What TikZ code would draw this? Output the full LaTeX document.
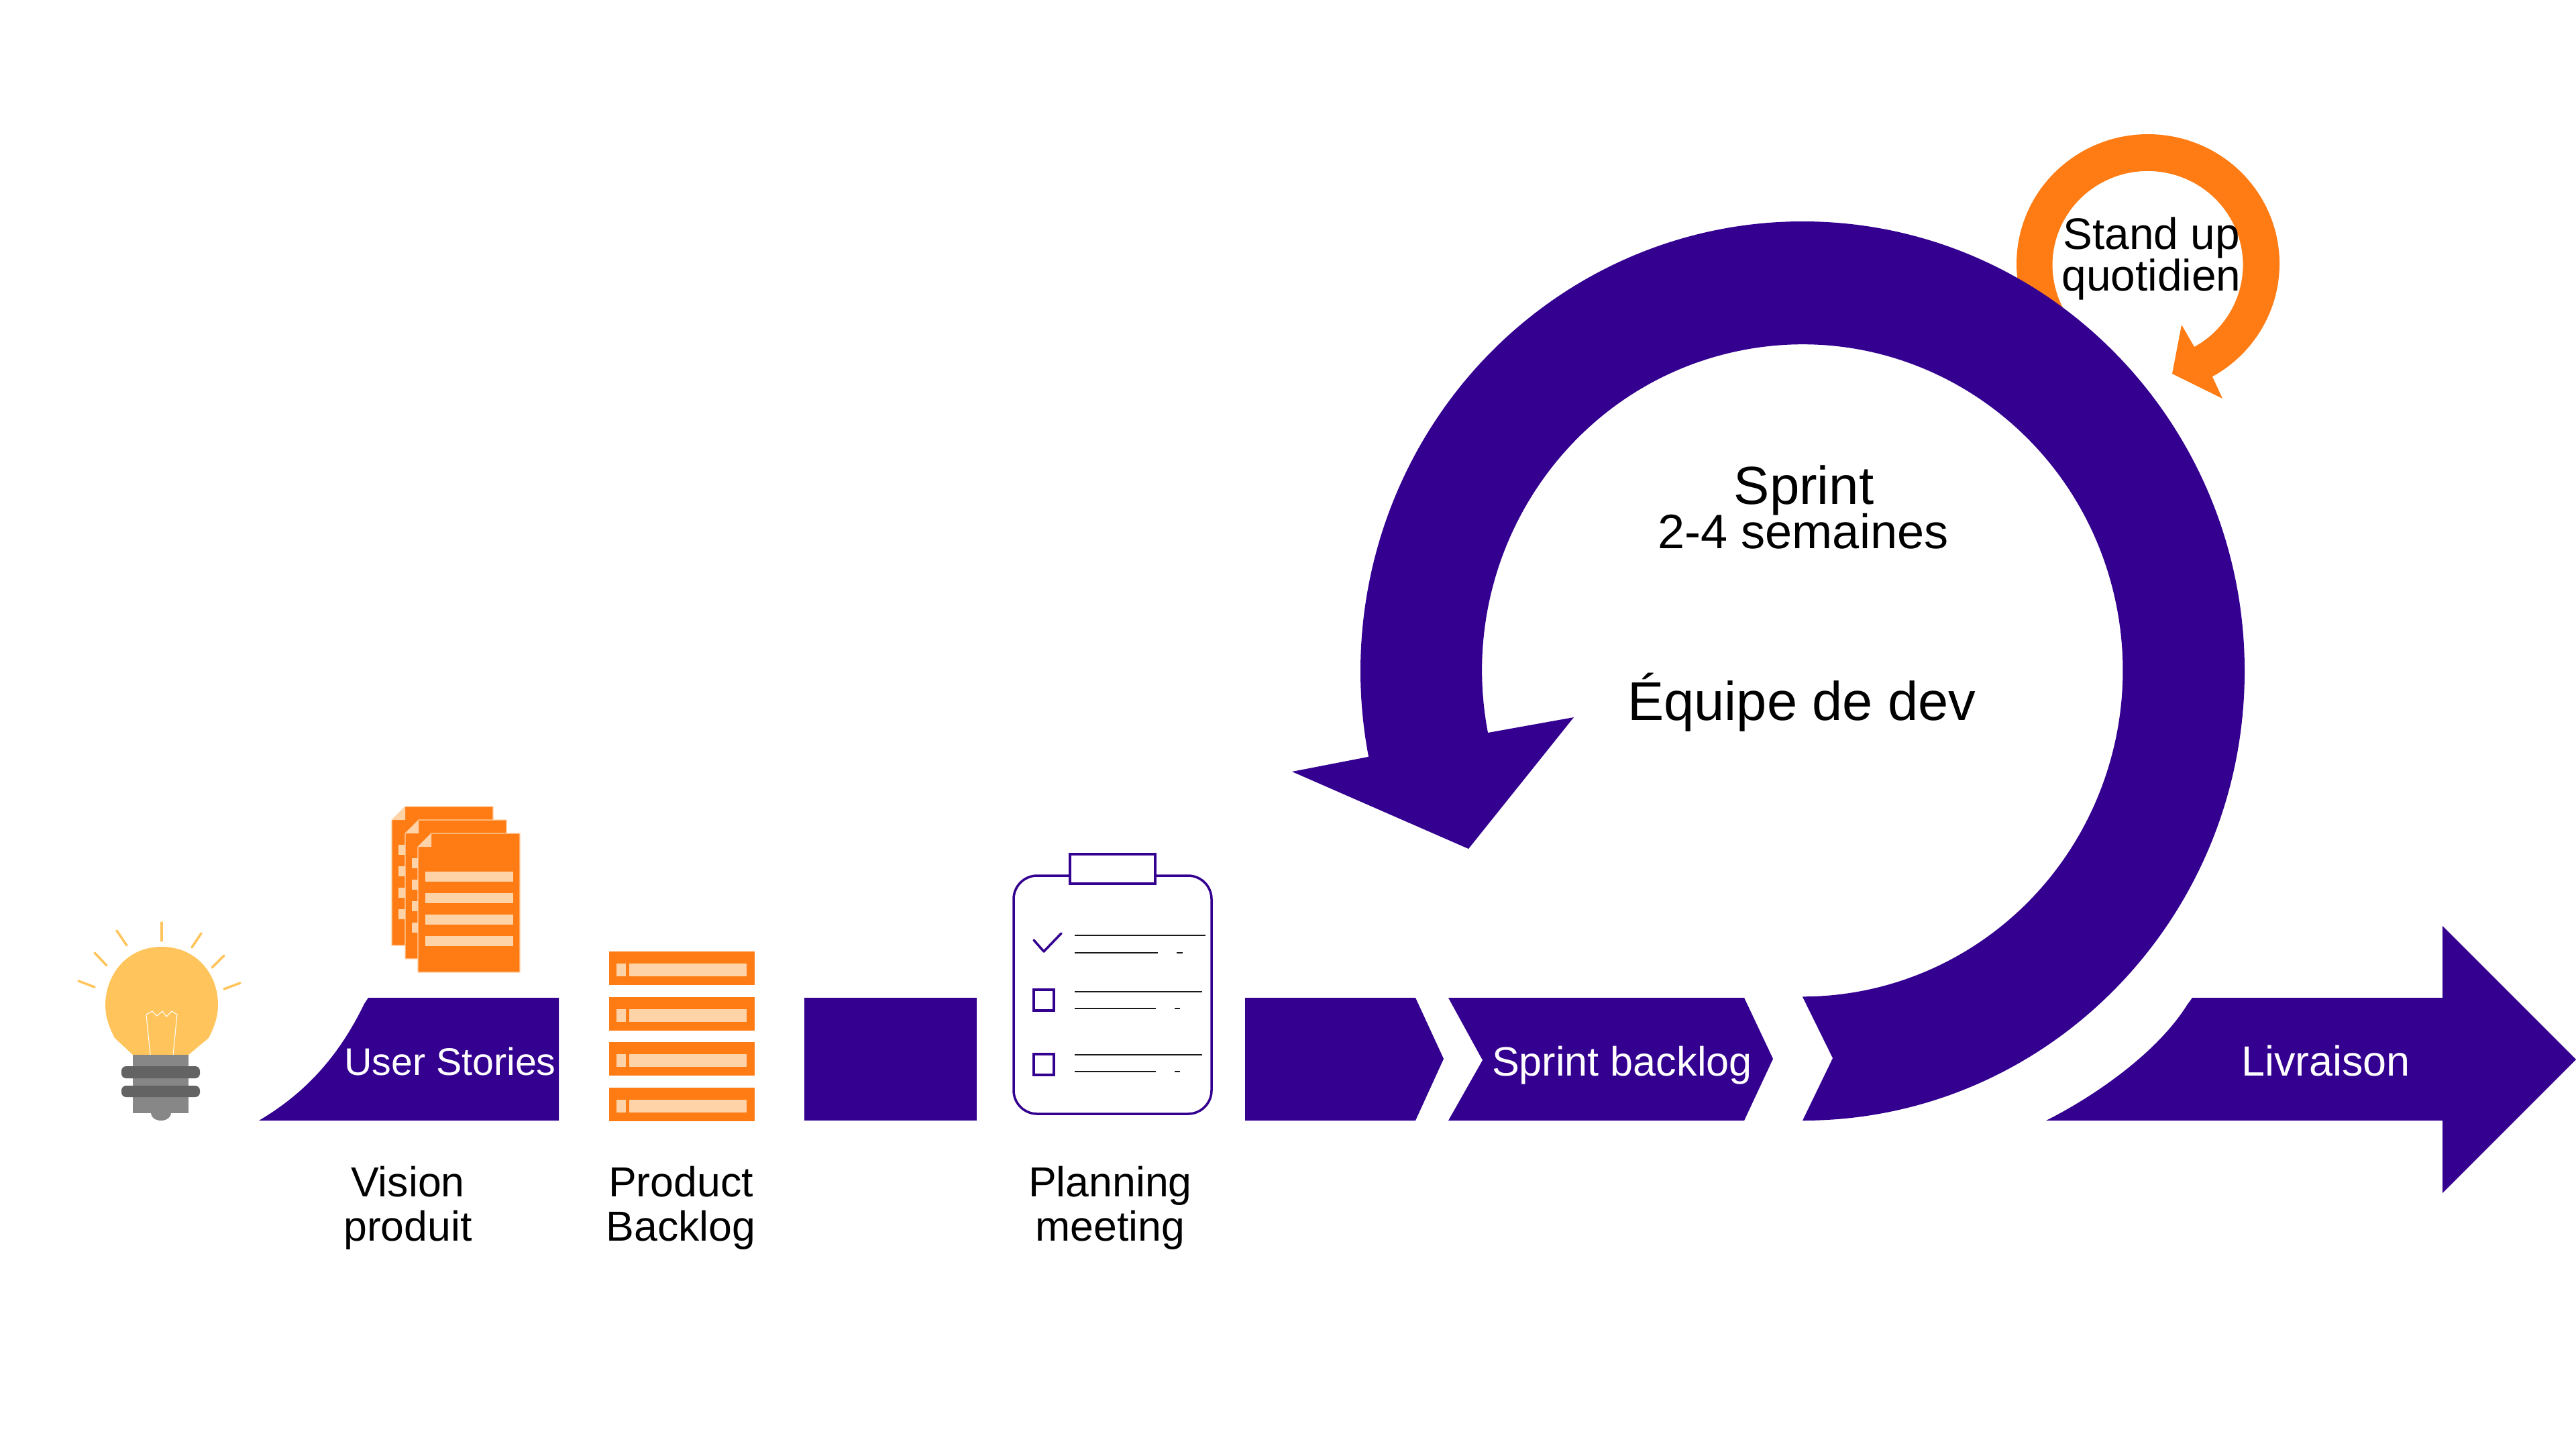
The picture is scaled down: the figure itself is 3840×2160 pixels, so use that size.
\documentclass[tikz,border=0pt]{standalone}
\usepackage{fontspec}
\setmainfont{Liberation Sans}
\definecolor{scrumpurple}{HTML}{330090}
\definecolor{scrumorange}{HTML}{FF7C14}
\definecolor{paleorange}{HTML}{FFD3A8}
\definecolor{bulbyellow}{HTML}{FFC55C}
\definecolor{basegrey}{HTML}{878787}
\definecolor{bandgrey}{HTML}{636363}
\tikzstyle{every node}=[inner sep=0pt, anchor=base, align=center]
\tikzstyle{caption}=[font=\fontsize{17.8}{18.5}\selectfont]
\tikzstyle{bartext}=[white, font=\fontsize{17.4}{20}\selectfont]
\tikzstyle{ray}=[bulbyellow, line width=1pt, line cap=round]
\tikzstyle{sheet}=[fill=scrumorange, draw=paleorange, line width=0.3pt]
\tikzstyle{listline}=[black!90, line width=0.55pt]
\tikzstyle{tickbox}=[scrumpurple, line width=1pt]

\begin{document}
\begin{tikzpicture}[x=0.01cm, y=-0.01cm]
\useasboundingbox (0,0) rectangle (3840,2160);
% Stand up loop
    \fill[scrumorange] (3202,393) ++(140:196 and 193) arc[start angle=140, end angle=420.7, x radius=196, y radius=193]
        -- (3313,594) -- (3238,557) -- (3252,484) -- (3271,517)
        arc[start angle=420.7, end angle=140, x radius=142, y radius=140] -- cycle;
% Sprint loop
    \fill[scrumpurple] (2687,1670) arc[start angle=90, end angle=-191, x radius=659, y radius=670]
        -- (1926,1150) -- (2189,1265) -- (2346,1069) -- (2218,1092)
        arc[start angle=-191, end angle=90, x radius=477.6, y radius=486]
        -- (2732,1577) -- cycle;
% Flow along the bottom
    \fill[scrumpurple] (386,1670) .. controls (445,1635) and (500,1585) .. (543,1496)
        -- (549,1487) -- (833,1487) -- (833,1670) -- cycle;
    \fill[scrumpurple] (1199,1487) rectangle (1456,1670);
    \fill[scrumpurple] (1856,1487) -- (2110,1487) -- (2152,1578) -- (2110,1670) -- (1856,1670) -- cycle;
    \fill[scrumpurple] (2159,1487) -- (2600,1487) -- (2643,1578) -- (2600,1670) -- (2159,1670) -- (2210,1580) -- cycle;
    \fill[scrumpurple] (3050,1670) .. controls (3120,1635) and (3215,1570) .. (3260,1498)
        -- (3268,1487) -- (3641,1487) -- (3641,1380) -- (3840,1579)
        -- (3641,1778) -- (3641,1670) -- cycle;
% Bulb
    \draw[ray] (241,1375) -- (241,1402);
    \draw[ray] (174,1387) -- (189,1409);
    \draw[ray] (141,1420) -- (159,1439);
    \draw[ray] (117,1462) -- (141,1471);
    \draw[ray] (300,1391) -- (286,1412);
    \draw[ray] (334,1424) -- (316,1442);
    \draw[ray] (358,1465) -- (334,1474);
    \fill[bulbyellow] (198,1572) -- (171,1547) .. controls (160,1526) and (157,1511) .. (157,1497)
        .. controls (158,1451) and (190,1411) .. (241,1411)
        .. controls (292,1411) and (325,1451) .. (325,1497)
        .. controls (325,1511) and (322,1526) .. (311,1547) -- (281,1572) -- cycle;
    \draw[white, line width=0.3pt] (224,1572) -- (218,1512) -- (227,1507) -- (234,1514) -- (242,1507)
        -- (248,1515) -- (256,1507) -- (264,1512) -- (258,1572);
    \fill[basegrey] (240,1659) ellipse[x radius=15, y radius=11];
    \fill[basegrey] (198,1572) rectangle (281,1659);
    \fill[bandgrey, rounded corners=2pt] (181,1589) rectangle (298,1607);
    \fill[bandgrey, rounded corners=2pt] (181,1618) rectangle (298,1635);
% User story sheets
    \filldraw[sheet] (604,1202) -- (735,1202) -- (735,1409) -- (584,1409) -- (584,1222) -- cycle;
    \fill[paleorange] (584,1222) -- (604,1222) -- (604,1202) -- cycle;
    \fill[paleorange] (594,1259) rectangle (725,1274);
    \fill[paleorange] (594,1291) rectangle (725,1306);
    \fill[paleorange] (594,1323) rectangle (725,1338);
    \fill[paleorange] (594,1355) rectangle (725,1370);
    \filldraw[sheet] (624,1222) -- (755,1222) -- (755,1429) -- (604,1429) -- (604,1242) -- cycle;
    \fill[paleorange] (604,1242) -- (624,1242) -- (624,1222) -- cycle;
    \fill[paleorange] (614,1279) rectangle (745,1294);
    \fill[paleorange] (614,1311) rectangle (745,1326);
    \fill[paleorange] (614,1343) rectangle (745,1358);
    \fill[paleorange] (614,1375) rectangle (745,1390);
    \filldraw[sheet] (643,1242) -- (775,1242) -- (775,1449) -- (623,1449) -- (623,1262) -- cycle;
    \fill[paleorange] (623,1262) -- (643,1262) -- (643,1242) -- cycle;
    \fill[paleorange] (634,1299) rectangle (765,1314);
    \fill[paleorange] (634,1331) rectangle (765,1346);
    \fill[paleorange] (634,1363) rectangle (765,1378);
    \fill[paleorange] (634,1395) rectangle (765,1410);
% Backlog rows
    \fill[scrumorange] (908,1418) rectangle (1125,1468);
    \fill[paleorange] (919,1436) rectangle (933,1455);
    \fill[paleorange] (938,1436) rectangle (1113,1455);
    \fill[scrumorange] (908,1486) rectangle (1125,1536);
    \fill[paleorange] (919,1504) rectangle (933,1523);
    \fill[paleorange] (938,1504) rectangle (1113,1523);
    \fill[scrumorange] (908,1553) rectangle (1125,1603);
    \fill[paleorange] (919,1571) rectangle (933,1590);
    \fill[paleorange] (938,1571) rectangle (1113,1590);
    \fill[scrumorange] (908,1621) rectangle (1125,1671);
    \fill[paleorange] (919,1639) rectangle (933,1658);
    \fill[paleorange] (938,1639) rectangle (1113,1658);
% Clipboard
    \draw[tickbox, rounded corners=0.35cm] (1511,1305) rectangle (1806,1660);
    \filldraw[tickbox, fill=white] (1595,1273) rectangle (1722,1317);
    \draw[tickbox, line join=round, line cap=round] (1541,1401) -- (1556,1418) -- (1582,1391);
    \draw[tickbox] (1541,1475) rectangle (1571,1506);
    \draw[tickbox] (1541,1571) rectangle (1571,1602);
    \draw[listline] (1602,1394) -- (1797,1394);
    \draw[listline] (1602,1420) -- (1726,1420);
    \draw[listline] (1754,1420) -- (1763,1420);
    \draw[listline] (1602,1478) -- (1792,1478);
    \draw[listline] (1602,1503) -- (1723,1503);
    \draw[listline] (1751,1503) -- (1759,1503);
    \draw[listline] (1602,1572) -- (1792,1572);
    \draw[listline] (1602,1597) -- (1723,1597);
    \draw[listline] (1751,1597) -- (1759,1597);
% Labels
    \node[font=\fontsize{18.7}{17.6}\selectfont] (standup) at (3207,433) {Stand up\\quotidien};
    \node[font=\fontsize{22.7}{27}\selectfont] (sprint) at (2689,751) {Sprint};
    \node[font=\fontsize{20.5}{24}\selectfont] (duration) at (2688,817) {2-4 semaines};
    \node[font=\fontsize{23.1}{27}\selectfont] (team) at (2686,1073) {Équipe de dev};
    \node[bartext, font=\fontsize{16.3}{20}\selectfont] (stories) at (671,1602) {User Stories};
    \node[bartext] (sprintbacklog) at (2418,1603) {Sprint backlog};
    \node[bartext, font=\fontsize{17.9}{20}\selectfont] (delivery) at (3467,1603) {Livraison};
    \node[caption] (vision) at (608,1849) {Vision\\produit};
    \node[caption] (productbacklog) at (1015,1849) {Product\\Backlog};
    \node[caption] (planning) at (1655,1849) {Planning\\meeting};
\end{tikzpicture}
\end{document}
